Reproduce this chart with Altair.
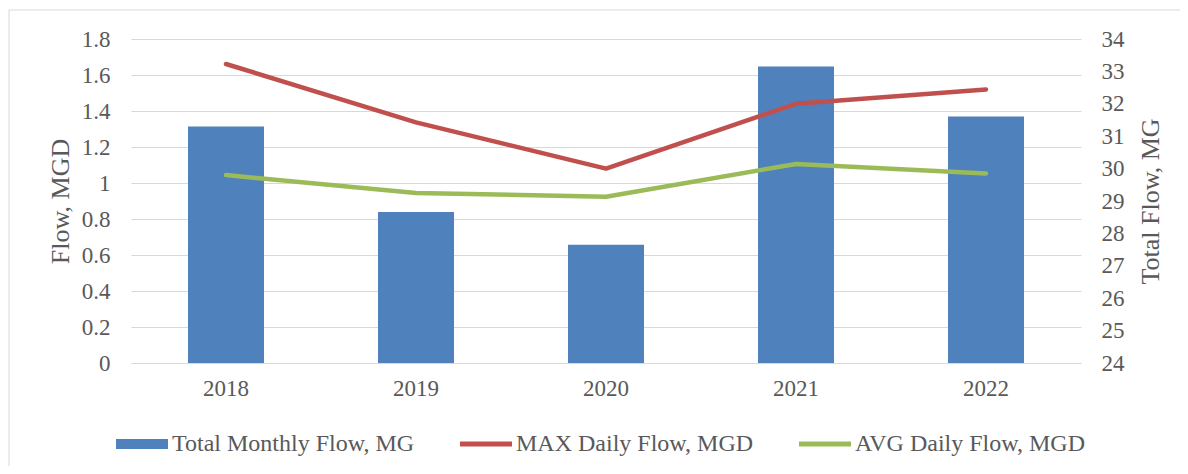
import altair as alt
import pandas as pd

years = ["2018", "2019", "2020", "2021", "2022"]
total_flow = [31.30, 28.66, 27.65, 33.15, 31.61]
max_daily = [1.661, 1.337, 1.08, 1.44, 1.52]
avg_daily = [1.044, 0.944, 0.924, 1.106, 1.053]
series_names = ["Total Monthly Flow, MG", "MAX Daily Flow, MGD", "AVG Daily Flow, MGD"]
series_colors = ["#4F81BD", "#C0504D", "#9BBB59"]
left_ticks = [0, 0.2, 0.4, 0.6, 0.8, 1, 1.2, 1.4, 1.6, 1.8]
right_ticks = [24, 25, 26, 27, 28, 29, 30, 31, 32, 33, 34]

bars_df = pd.DataFrame({"Year": years, "Value": total_flow, "Series": [series_names[0]] * len(years)})
lines_df = pd.DataFrame({
    "Year": years + years,
    "Value": max_daily + avg_daily,
    "Series": [series_names[1]] * len(years) + [series_names[2]] * len(years),
})

FONT = "Liberation Serif"
TXT = "#595959"
GRID = "#D9D9D9"
FS = 23
FS_LEG = 24
FS_TITLE = 26

x_enc = alt.X(
    "Year:N", sort=years,
    scale=alt.Scale(paddingInner=0.6, paddingOuter=0.3),
    axis=alt.Axis(title=None, labelAngle=0, ticks=False, domain=True, domainColor=GRID,
                  labelPadding=14, labelFontSize=FS, labelColor=TXT, labelFont=FONT),
)

shape_expr = ("datum.value === '%s' ? 'M-1,-0.19H1V0.19H-1Z' : 'M-1,-0.1H1V0.1H-1Z'" % series_names[0])
fill_expr = ("datum.value === '%s' ? '%s' : (datum.value === '%s' ? '%s' : '%s')"
             % (series_names[0], series_colors[0], series_names[1], series_colors[1], series_colors[2]))

color_enc = alt.Color(
    "Series:N",
    scale=alt.Scale(domain=series_names, range=series_colors),
    legend=alt.Legend(
        title=None, orient="none", legendX=-15, legendY=379, direction="horizontal",
        symbolSize=2704, labelFont=FONT, labelFontSize=FS_LEG, labelColor=TXT,
        labelOffset=4, columnPadding=45, labelLimit=500,
        symbolType=alt.ExprRef(shape_expr),
        symbolFillColor=alt.ExprRef(fill_expr),
        symbolStrokeWidth=0, symbolOpacity=1,
    ),
)

border = alt.Chart(pd.DataFrame({"k": [0]})).mark_rect(
    fill="transparent", stroke=GRID, strokeWidth=1
).encode(x=alt.value(-122), x2=alt.value(1200), y=alt.value(-29), y2=alt.value(700))

bars = alt.Chart(bars_df).mark_bar(opacity=1).encode(
    x=x_enc,
    y=alt.Y("Value:Q", scale=alt.Scale(domain=[24, 34], zero=False, nice=False),
            axis=alt.Axis(orient="right", values=right_ticks, grid=False, ticks=False, domain=False,
                          labelPadding=20, labelFontSize=FS, labelColor=TXT, labelFont=FONT,
                          title="Total Flow, MG", titleX=69, titleY=162, titleAngle=270,
                          titleBaseline="middle", titleAlign="center", titleFont=FONT,
                          titleFontSize=FS_TITLE, titleFontWeight="normal", titleColor=TXT)),
    y2=alt.datum(24),
    color=color_enc,
)

lines = alt.Chart(lines_df).mark_line(strokeWidth=4.5, strokeCap="round", strokeJoin="round").encode(
    x=x_enc,
    y=alt.Y("Value:Q", scale=alt.Scale(domain=[0, 1.8], nice=False),
            axis=alt.Axis(orient="left", values=left_ticks, format="~g", grid=True, gridColor=GRID,
                          gridWidth=1, ticks=False, domain=False, labelPadding=21,
                          labelFontSize=FS, labelColor=TXT, labelFont=FONT,
                          title="Flow, MGD", titleX=-71, titleY=162, titleAngle=270,
                          titleBaseline="middle", titleAlign="center", titleFont=FONT,
                          titleFontSize=FS_TITLE, titleFontWeight="normal", titleColor=TXT)),
    color=color_enc,
    detail="Series:N",
)

chart = alt.layer(border, bars, lines).resolve_scale(y="independent").properties(
    width=950, height=324,
    padding={"left": 123, "top": 31, "right": 99, "bottom": 103},
    autosize=alt.AutoSizeParams(type="none"),
).configure(font=FONT).configure_view(stroke=None)

chart.save("out.html", embed_options={"renderer": "svg", "actions": False})
